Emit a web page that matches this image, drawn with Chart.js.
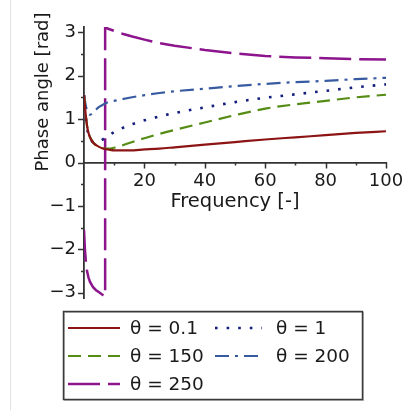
<!DOCTYPE html>
<html>
<head>
<meta charset="utf-8">
<script src="https://cdn.jsdelivr.net/npm/chart.js@4"></script>
<style>
  html, body { margin: 0; padding: 0; background: #fff; }
  #wrap { position: relative; width: 411px; height: 410px; }
  #edge { position: absolute; left: 10px; top: 0; width: 1px; height: 410px; background: #e2e2e2; }
</style>
</head>
<body>
<div id="wrap">
  <div id="edge"></div>
  <canvas id="chart" width="411" height="410"></canvas>
</div>
<script>
// frequency samples and phase angle values
const freq = [0, 0.5, 1, 1.5, 2, 3, 4, 5, 6, 7, 8, 10, 12, 15, 20, 25, 30, 40, 50, 60, 70, 80, 90, 100];
const theta01 = [1.55, 1.15, 0.85, 0.68, 0.58, 0.46, 0.4, 0.36, 0.33, 0.31, 0.3, 0.28, 0.28, 0.28, 0.3, 0.32, 0.35, 0.41, 0.47, 0.53, 0.58, 0.63, 0.68, 0.72];
const theta1 = [1.55, 1.1, 0.8, 0.64, 0.55, 0.47, 0.46, 0.48, 0.52, 0.57, 0.62, 0.7, 0.77, 0.86, 0.97, 1.06, 1.14, 1.27, 1.39, 1.49, 1.57, 1.65, 1.73, 1.8];
const theta150 = [1.55, 1.15, 0.85, 0.68, 0.58, 0.46, 0.4, 0.36, 0.33, 0.32, 0.32, 0.34, 0.38, 0.45, 0.56, 0.66, 0.75, 0.92, 1.09, 1.24, 1.34, 1.42, 1.5, 1.56];
const theta200 = [1.55, 1.35, 1.2, 1.12, 1.1, 1.15, 1.22, 1.28, 1.32, 1.36, 1.39, 1.42, 1.45, 1.49, 1.55, 1.6, 1.64, 1.7, 1.76, 1.81, 1.85, 1.88, 1.92, 1.95];
const freq250 = [0, 0.3, 0.7, 1, 1.5, 2, 3, 4, 5, 6, 7, 7, 8, 10, 13, 16, 20, 25, 30, 40, 50, 60, 70, 80, 90, 100];
const theta250 = [-1.55, -2.0, -2.35, -2.5, -2.65, -2.75, -2.87, -2.94, -2.99, -3.04, -3.08, 3.11, 3.08, 3.03, 2.96, 2.9, 2.83, 2.75, 2.69, 2.59, 2.51, 2.45, 2.42, 2.4, 2.38, 2.37];

const labels = ['θ = 0.1', 'θ = 1', 'θ = 150', 'θ = 200', 'θ = 250'];
const xTicks = [20, 40, 60, 80, 100];
const yTicks = [-3, -2, -1, 0, 1, 2, 3];

const FONT = '"DejaVu Sans", sans-serif';

function pts(xs, ys) {
    return xs.map((x, i) => ({ x: x, y: ys[i] }));
}

// tick marks, axis titles and the boxed legend
const extras = {
    id: 'extras',
    afterDraw(chart) {
        const ctx = chart.ctx;
        const xs = chart.scales.x;
        const ys = chart.scales.y;
        const x0 = xs.getPixelForValue(0);
        const y0 = ys.getPixelForValue(0);

        ctx.save();
        ctx.strokeStyle = '#333';
        ctx.lineWidth = 1.5;
        ctx.beginPath();
        for (let v = 10; v <= 100; v += 10) {
            const px = Math.round(xs.getPixelForValue(v)) + 0.5;
            const len = v % 20 === 0 ? 6 : 3;
            ctx.moveTo(px, y0);
            ctx.lineTo(px, y0 + len);
        }
        for (let v = -3; v <= 3; v += 0.5) {
            const py = Math.round(ys.getPixelForValue(v)) + 0.5;
            const len = Number.isInteger(v) ? 6 : 3;
            ctx.moveTo(x0, py);
            ctx.lineTo(x0 - len, py);
        }
        ctx.stroke();

        ctx.fillStyle = '#1a1a1a';
        ctx.textAlign = 'center';
        ctx.textBaseline = 'alphabetic';
        ctx.font = '19.5px ' + FONT;
        ctx.fillText('Frequency [-]', (chart.chartArea.left + chart.chartArea.right) / 2, 207);

        ctx.font = '18px ' + FONT;
        ctx.translate(48, 92);
        ctx.rotate(-Math.PI / 2);
        ctx.fillText('Phase angle [rad]', 0, 0);
        ctx.restore();

        // legend
        ctx.save();
        ctx.strokeStyle = '#bbb';
        ctx.lineWidth = 1;
        ctx.strokeRect(64.5, 312.5, 299, 88);
        ctx.strokeStyle = '#3a3a3a';
        ctx.lineWidth = 1.5;
        ctx.strokeRect(63.5, 311.5, 299, 88);
        const spots = [[68, 328, 52, 10], [215, 328, 47, 14], [68, 356, 52, 10], [215, 356, 47, 14], [68, 384, 52, 10]];
        chart.data.datasets.forEach((ds, i) => {
            const [lx, ly, len, gap] = spots[i];
            ctx.strokeStyle = ds.borderColor;
            ctx.lineWidth = ds.borderWidth;
            ctx.setLineDash(ds.borderDash || []);
            ctx.beginPath();
            ctx.moveTo(lx, ly);
            ctx.lineTo(lx + len, ly);
            ctx.stroke();
            ctx.setLineDash([]);
            ctx.fillStyle = '#1a1a1a';
            ctx.font = '18.5px ' + FONT;
            ctx.textAlign = 'left';
            ctx.textBaseline = 'middle';
            ctx.fillText(ds.label, lx + len + gap, ly + 1);
        });
        ctx.restore();
    }
};

const ctx = document.getElementById('chart').getContext('2d');
const myChart = new Chart(ctx, {
    type: 'line',
    data: {
        datasets: [
            { label: labels[0], data: pts(freq, theta01), borderColor: 'rgb(140,20,20)', borderWidth: 2.2, cubicInterpolationMode: 'monotone' },
            { label: labels[1], data: pts(freq, theta1), borderColor: 'rgb(20,30,125)', borderWidth: 2.6, borderDash: [2.6, 9], cubicInterpolationMode: 'monotone' },
            { label: labels[2], data: pts(freq, theta150), borderColor: 'rgb(85,140,20)', borderWidth: 2.2, borderDash: [13, 7], cubicInterpolationMode: 'monotone' },
            { label: labels[3], data: pts(freq, theta200), borderColor: 'rgb(55,90,160)', borderWidth: 2.2, borderDash: [14, 6, 3, 6], cubicInterpolationMode: 'monotone' },
            { label: labels[4], data: pts(freq250, theta250), borderColor: 'rgb(140,20,140)', borderWidth: 2.5, borderDash: [32, 8], tension: 0 }
        ]
    },
    options: {
        responsive: false,
        animation: false,
        events: [],
        layout: { padding: { left: 0, right: 25, top: 27, bottom: 112 } },
        elements: { point: { radius: 0 } },
        plugins: { legend: { display: false }, tooltip: { enabled: false } },
        scales: {
            x: {
                type: 'linear',
                position: { y: 0 },
                min: 0,
                max: 100,
                afterFit: s => { s.height = 0; },
                afterBuildTicks: s => { s.ticks = xTicks.map(v => ({ value: v })); },
                grid: { display: true, drawOnChartArea: false, drawTicks: true, tickLength: 6, color: 'rgba(0,0,0,0)' },
                border: { display: true, color: '#333', width: 1.8 },
                ticks: { color: '#1a1a1a', padding: 2, maxRotation: 0, autoSkip: false, font: { family: FONT, size: 18 } }
            },
            y: {
                type: 'linear',
                position: 'left',
                min: -3.12,
                max: 3.12,
                afterFit: s => { s.width = 84; },
                afterBuildTicks: s => { s.ticks = yTicks.map(v => ({ value: v })); },
                grid: { display: true, drawOnChartArea: false, drawTicks: true, tickLength: 6, color: 'rgba(0,0,0,0)' },
                border: { display: true, color: '#333', width: 1.8 },
                ticks: {
                    color: '#1a1a1a',
                    padding: 2,
                    autoSkip: false,
                    font: { family: FONT, size: 18 },
                    callback: v => (v < 0 ? '\u2212' + Math.abs(v) : String(v))
                }
            }
        }
    },
    plugins: [extras]
});
</script>
</body>
</html>
